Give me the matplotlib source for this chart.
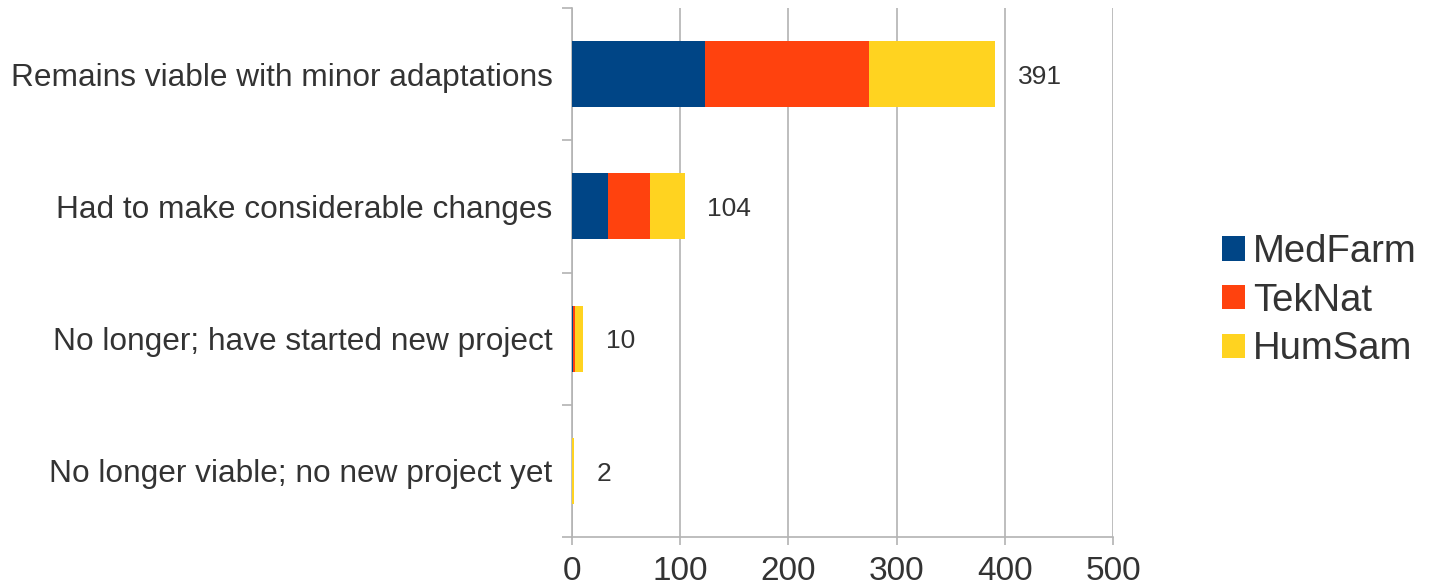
import numpy as np
import matplotlib.pyplot as plt

# data
categories = ['Remains viable with minor adaptations',
              'Had to make considerable changes',
              'No longer; have started new project',
              'No longer viable; no new project yet']
medfarm = [123, 33, 1, 0]
teknat = [151, 39, 2, 0]
humsam = [117, 32, 7, 2]
totals = [391, 104, 10, 2]

series = ['MedFarm', 'TekNat', 'HumSam']
colors = ['#004586', '#ff420e', '#ffd320']
text_col = '#333333'
grid_col = '#b3b3b3'

plt.rcParams['font.family'] = ['Liberation Sans', 'DejaVu Sans']

fig = plt.figure(figsize=(14.34, 5.86), dpi=100)
ax = fig.add_axes([0.3989, 0.0836, 0.3773, 0.9027])

y = np.arange(len(categories))
left = np.zeros(len(categories))
for name, vals, col in zip(series, [medfarm, teknat, humsam], colors):
    ax.barh(y, vals, left=left, height=0.5, color=col, label=name, zorder=3)
    left += np.array(vals)

for yi, t in zip(y, totals):
    ax.annotate(str(t), (t, yi), xytext=(16.5, -2), textcoords='offset points',
                ha='left', va='center', fontsize=19, color=text_col)

ax.set_xlim(0, 500)
ax.set_ylim(len(categories) - 0.5, -0.5)
ax.set_xticks(np.arange(0, 501, 100))
ax.set_yticks(y)
ax.set_yticklabels(categories)
ax.set_yticks(np.arange(-0.5, len(categories), 1), minor=True)

ax.grid(axis='x', color=grid_col, linewidth=1.2, zorder=0)
for s in ['top', 'right']:
    ax.spines[s].set_visible(False)
for s in ['left', 'bottom']:
    ax.spines[s].set_color(grid_col)
    ax.spines[s].set_linewidth(1.2)

ax.tick_params(axis='x', length=6, width=1.2, color=grid_col, labelsize=24,
               labelcolor=text_col, pad=8)
ax.tick_params(axis='y', which='major', length=0, labelsize=22.75,
               labelcolor=text_col, pad=14)
ax.tick_params(axis='y', which='minor', length=7, width=1.2, color=grid_col)

leg = ax.legend(loc='center left', bbox_to_anchor=(1.174, 0.447), frameon=False,
                fontsize=27.5, handlelength=0.6, handleheight=0.6,
                handletextpad=0.2, labelspacing=0.33, borderaxespad=0)
for t in leg.get_texts():
    t.set_color(text_col)

fig.savefig('out.png', dpi=100)
